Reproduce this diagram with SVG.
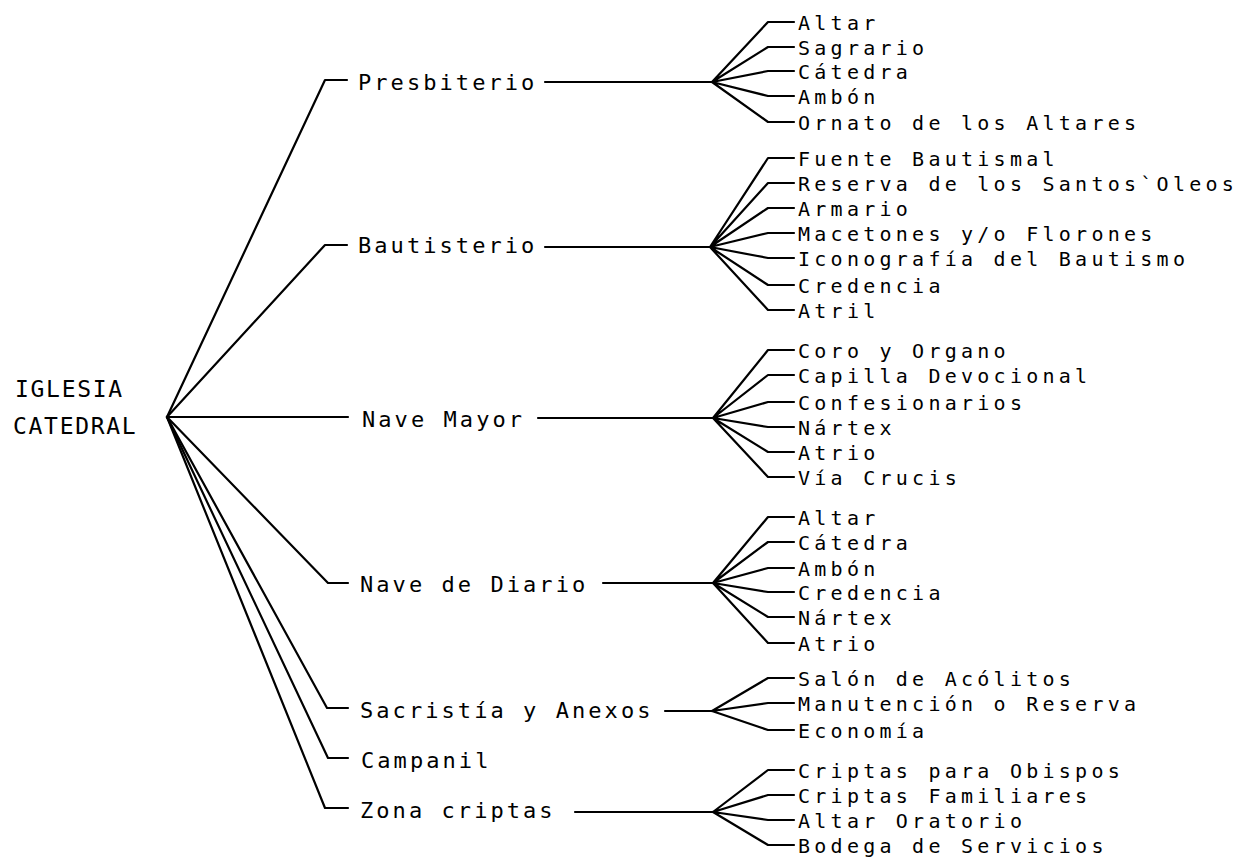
<svg xmlns="http://www.w3.org/2000/svg" width="1250" height="859" viewBox="0 0 1250 859">
<style>
text{font-family:"DejaVu Sans Mono","Liberation Mono",monospace;fill:#000}
.root{font-size:23px;letter-spacing:1.7px}
.l1{font-size:22px;letter-spacing:3.06px}
.l2{font-size:20px;letter-spacing:4.26px}
.c path,.c line{fill:none;stroke:#000;stroke-width:2.2;stroke-linejoin:round;stroke-linecap:round}
</style>
<rect width="1250" height="859" fill="#fff"/>
<g class="c" id="connectors">
<path d="M167,417 L325,80 L347,80"/>
<path d="M167,417 L325,245 L347,245"/>
<path d="M167,417 L348,417"/>
<path d="M167,417 L328,583 L348,583"/>
<path d="M167,417 L327,708 L348,708"/>
<path d="M167,417 L328,758 L348,758"/>
<path d="M167,417 L325,808 L348,808"/>
<line x1="545" y1="82" x2="712" y2="82"/>
<line x1="545" y1="247" x2="710" y2="247"/>
<line x1="538" y1="418" x2="713" y2="418"/>
<line x1="603" y1="583" x2="713" y2="583"/>
<line x1="665" y1="711" x2="712" y2="711"/>
<line x1="575" y1="812" x2="713" y2="812"/>
<path d="M712,82 L768,22 L794,22 M712,82 L768,47 L794,47 M712,82 L768,71 L794,71 M712,82 L768,96 L794,96 M712,82 L768,122 L794,122"/>
<path d="M710,247 L768,158 L794,158 M710,247 L768,183 L794,183 M710,247 L768,208 L794,208 M710,247 L768,233 L794,233 M710,247 L768,258 L794,258 M710,247 L768,285 L794,285 M710,247 L768,310 L794,310"/>
<path d="M713,418 L768,350 L794,350 M713,418 L768,375 L794,375 M713,418 L768,402 L794,402 M713,418 L768,427 L794,427 M713,418 L768,452 L794,452 M713,418 L768,477 L794,477"/>
<path d="M713,583 L768,517 L794,517 M713,583 L768,542 L794,542 M713,583 L768,568 L794,568 M713,583 L768,592 L794,592 M713,583 L768,617 L794,617 M713,583 L768,643 L794,643"/>
<path d="M712,711 L768,678 L794,678 M712,711 L768,703 L794,703 M712,711 L768,730 L794,730"/>
<path d="M713,812 L768,770 L794,770 M713,812 L768,795 L794,795 M713,812 L768,820 L794,820 M713,812 L768,845 L794,845"/>
</g>
<g id="root"><text class="root" x="15" y="397">IGLESIA</text><text class="root" x="13" y="434">CATEDRAL</text></g>
<g id="presbiterio"><text class="l1" x="358" y="90">Presbiterio</text></g>
<g id="bautisterio"><text class="l1" x="358" y="253">Bautisterio</text></g>
<g id="nave-mayor"><text class="l1" x="362" y="427">Nave Mayor</text></g>
<g id="nave-diario"><text class="l1" x="360" y="592">Nave de Diario</text></g>
<g id="sacristia"><text class="l1" x="360" y="718">Sacristía y Anexos</text></g>
<g id="campanil"><text class="l1" x="361" y="768">Campanil</text></g>
<g id="zona-criptas"><text class="l1" x="360" y="818">Zona criptas</text></g>
<g id="presbiterio-items">
<text class="l2" x="798" y="30">Altar</text>
<text class="l2" x="798" y="55">Sagrario</text>
<text class="l2" x="798" y="79">Cátedra</text>
<text class="l2" x="798" y="104">Ambón</text>
<text class="l2" x="798" y="130">Ornato de los Altares</text>
</g>
<g id="bautisterio-items">
<text class="l2" x="798" y="166">Fuente Bautismal</text>
<text class="l2" x="798" y="191">Reserva de los Santos`Oleos</text>
<text class="l2" x="798" y="216">Armario</text>
<text class="l2" x="798" y="241">Macetones y/o Florones</text>
<text class="l2" x="798" y="266">Iconografía del Bautismo</text>
<text class="l2" x="798" y="293">Credencia</text>
<text class="l2" x="798" y="318">Atril</text>
</g>
<g id="nave-mayor-items">
<text class="l2" x="798" y="358">Coro y Organo</text>
<text class="l2" x="798" y="383">Capilla Devocional</text>
<text class="l2" x="798" y="410">Confesionarios</text>
<text class="l2" x="798" y="435">Nártex</text>
<text class="l2" x="798" y="460">Atrio</text>
<text class="l2" x="798" y="485">Vía Crucis</text>
</g>
<g id="nave-diario-items">
<text class="l2" x="798" y="525">Altar</text>
<text class="l2" x="798" y="550">Cátedra</text>
<text class="l2" x="798" y="576">Ambón</text>
<text class="l2" x="798" y="600">Credencia</text>
<text class="l2" x="798" y="625">Nártex</text>
<text class="l2" x="798" y="651">Atrio</text>
</g>
<g id="sacristia-items">
<text class="l2" x="798" y="686">Salón de Acólitos</text>
<text class="l2" x="798" y="711">Manutención o Reserva</text>
<text class="l2" x="798" y="738">Economía</text>
</g>
<g id="zona-criptas-items">
<text class="l2" x="798" y="778">Criptas para Obispos</text>
<text class="l2" x="798" y="803">Criptas Familiares</text>
<text class="l2" x="798" y="828">Altar Oratorio</text>
<text class="l2" x="798" y="853">Bodega de Servicios</text>
</g>
</svg>
